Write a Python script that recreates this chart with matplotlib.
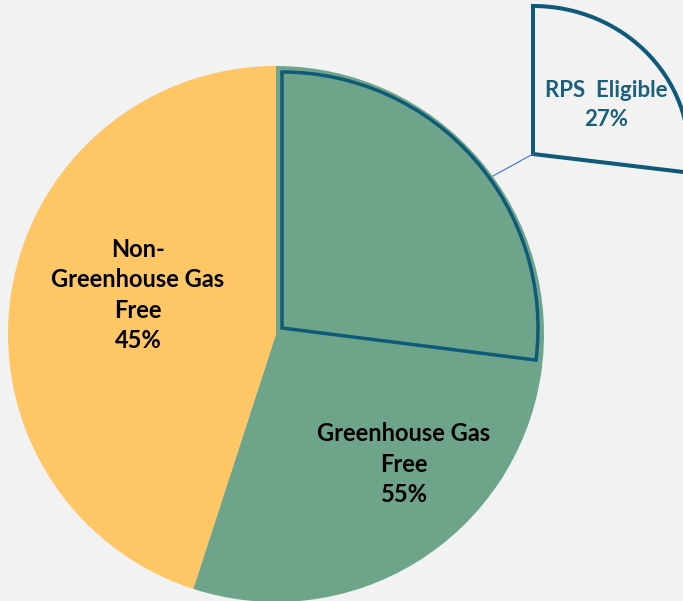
import numpy as np
import matplotlib
matplotlib.use("Agg")
import matplotlib.pyplot as plt
from matplotlib.patches import Wedge, Polygon

categories = ["Greenhouse Gas\nFree", "Non-\nGreenhouse Gas\nFree"]
shares = [55, 45]
colors = ["#6ea58a", "#ffc666"]
sub_label = "RPS  Eligible"
sub_share = 27

W, H = 683, 601
fig = plt.figure(figsize=(W / 100, H / 100), dpi=100, facecolor="#f2f2f2")
ax = fig.add_axes([0, 0, 1, 1])
ax.set_facecolor("#f2f2f2")

cx, cy, R = 276, H - 334, 268
ax.pie(shares, colors=colors, startangle=90, counterclock=False,
       center=(cx, cy), radius=R, wedgeprops=dict(linewidth=0))

teal = "#0f5a78"
t2 = 90
t1 = 90 - 360 * sub_share / 100
# inner outlined sub-wedge
ax.add_patch(Wedge((cx + 6, cy + 6), 256, t1, t2, fill=False,
                   edgecolor=teal, linewidth=2.5, joinstyle="miter"))
# exploded callout wedge (slightly stretched horizontally)
ex, ey = 533, H - 154
th = np.radians(np.linspace(t2, t1, 80))
pts = [(ex, ey)] + [(ex + 156 * np.cos(a), ey + 148 * np.sin(a)) for a in th]
ax.add_patch(Polygon(pts, closed=True, facecolor="#f2f2f2",
                     edgecolor=teal, linewidth=2.9, joinstyle="miter"))
# leader line
ax.plot([ex, 493], [ey, H - 176], color="#4472c4", linewidth=0.8)

font = "Lato"
ax.text(138, H - 295, f"{categories[1]}\n{shares[1]}%", ha="center", va="center",
        fontsize=17, fontweight="bold", family=font, linespacing=1.37, color="black")
ax.text(404, H - 464, f"{categories[0]}\n{shares[0]}%", ha="center", va="center",
        fontsize=17, fontweight="bold", family=font, linespacing=1.37, color="black")
ax.text(606, H - 105, f"{sub_label}\n{sub_share}%", ha="center", va="center",
        fontsize=16, fontweight="bold", family=font, linespacing=1.45, color="#1b5f7b")

ax.set_xlim(0, W)
ax.set_ylim(0, H)
ax.set_aspect("equal")
ax.axis("off")
fig.savefig("out.png", dpi=100, facecolor="#f2f2f2")
